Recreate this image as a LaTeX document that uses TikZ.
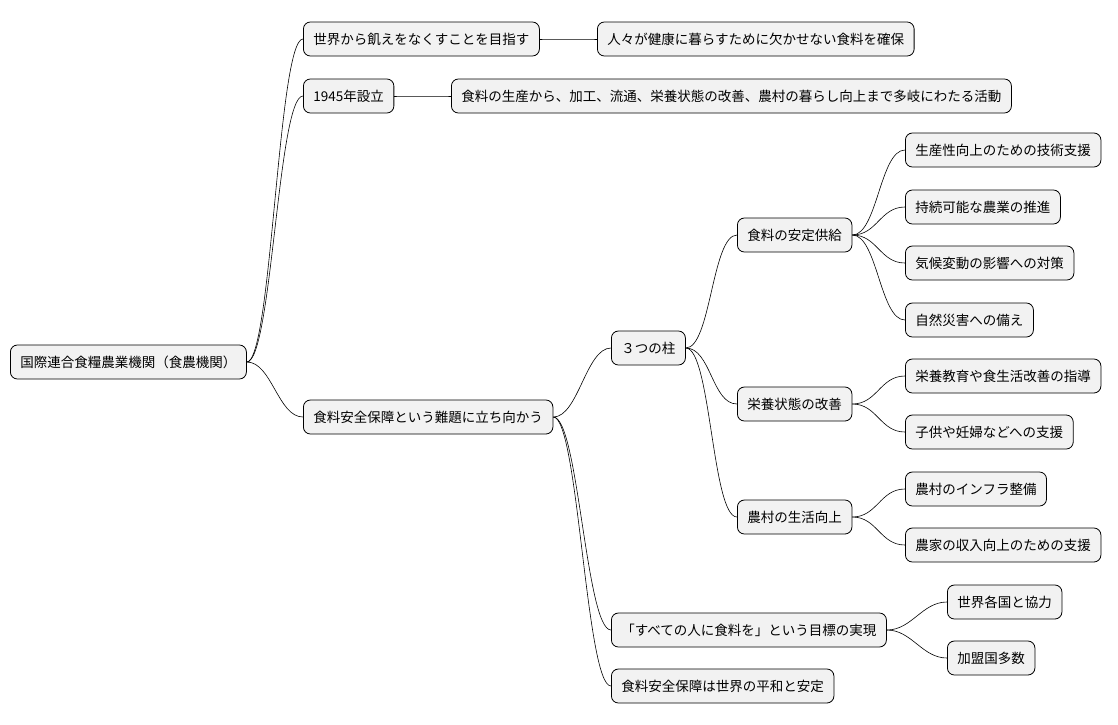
\documentclass[tikz,border=0pt]{standalone}
\usepackage{fontspec}
\setmainfont{Noto Sans CJK JP}
\begin{document}
\begin{tikzpicture}[x=1pt,y=-1pt,
  box/.style={draw=black,fill=black!5,rounded corners=7pt,minimum height=34pt,inner xsep=10pt,anchor=west,font=\fontsize{13.5}{15}\selectfont,line width=0.8pt},
  ln/.style={line width=0.6pt}]
\useasboundingbox[fill=white] (0,0) rectangle (1118,724);
\node[box] (r) at (10,362) {国際連合食糧農業機関（食農機関）};
\node[box] (a) at (303,39) {世界から飢えをなくすことを目指す};
\node[box] (a1) at (597,39) {人々が健康に暮らすために欠かせない食料を確保};
\node[box] (b) at (303,96) {1945年設立};
\node[box] (b1) at (451,96) {食料の生産から、加工、流通、栄養状態の改善、農村の暮らし向上まで多岐にわたる活動};
\node[box] (c) at (303,417) {食料安全保障という難題に立ち向かう};
\node[box] (p) at (611,348) {３つの柱};
\node[box] (p1) at (737,235) {食料の安定供給};
\node[box] (p11) at (905,150) {生産性向上のための技術支援};
\node[box] (p12) at (905,207) {持続可能な農業の推進};
\node[box] (p13) at (905,263) {気候変動の影響への対策};
\node[box] (p14) at (905,320) {自然災害への備え};
\node[box] (p2) at (737,404) {栄養状態の改善};
\node[box] (p21) at (905,376) {栄養教育や食生活改善の指導};
\node[box] (p22) at (905,432) {子供や妊婦などへの支援};
\node[box] (p3) at (737,517) {農村の生活向上};
\node[box] (p31) at (905,489) {農村のインフラ整備};
\node[box] (p32) at (905,545) {農家の収入向上のための支援};
\node[box] (g) at (611,630) {「すべての人に食料を」という目標の実現};
\node[box] (g1) at (947,602) {世界各国と協力};
\node[box] (g2) at (947,658) {加盟国多数};
\node[box] (h) at (611,686) {食料安全保障は世界の平和と安定};
\foreach \u/\v in {r/a,r/b,r/c,a/a1,b/b1,c/p,c/g,c/h,p/p1,p/p2,p/p3,p1/p11,p1/p12,p1/p13,p1/p14,p2/p21,p2/p22,p3/p31,p3/p32,g/g1,g/g2}
  \draw[ln] (\u.east) .. controls ([xshift=25pt]\u.east) and ([xshift=-25pt]\v.west) .. (\v.west);
\end{tikzpicture}
\end{document}
